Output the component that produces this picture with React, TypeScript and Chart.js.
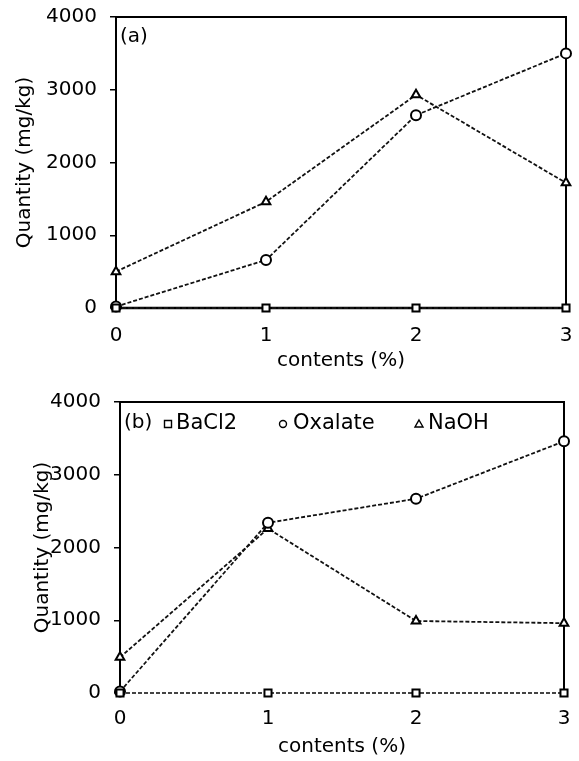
import React, { useEffect, useRef } from "react";
import { Chart, registerables } from "chart.js";

Chart.register(...registerables);

const categories = ["0", "1", "2", "3"];
const yTicks = [0, 1000, 2000, 3000, 4000];

const aBaCl2 = [0, 0, 0, 0];
const aOxalate = [20, 660, 2650, 3500];
const aNaOH = [500, 1460, 2930, 1720];

const bBaCl2 = [0, 0, 0, 0];
const bOxalate = [20, 2340, 2670, 3460];
const bNaOH = [490, 2260, 990, 960];

const seriesNames = ["BaCl2", "Oxalate", "NaOH"];
const pointStyles = ["rect", "circle", "triangle"];

const FONT = "'DejaVu Sans', sans-serif";
const FS = 20;

type Cfg = {
  yWidth: number;
  xHeight: number;
  padTop: number;
  padRight: number;
  tickPad: number;
  xTitlePadBottom: number;
  yTitlePadTop: number;
  panel: string;
  panelY: number;
  legend: boolean;
  bottomBorder: boolean;
  data: number[][];
};

function makeChart(canvas: HTMLCanvasElement, cfg: Cfg) {
  const boxPlugin = {
    id: "box",
    beforeDatasetsDraw(chart: any) {
      const { ctx, chartArea } = chart;
      const { left, right, top, bottom } = chartArea;
      ctx.save();
      ctx.strokeStyle = "#000";
      ctx.lineWidth = 2;
      ctx.beginPath();
      ctx.moveTo(left, bottom);
      ctx.lineTo(left, top);
      ctx.lineTo(right, top);
      ctx.lineTo(right, bottom);
      ctx.stroke();
      if (cfg.bottomBorder) {
        ctx.lineWidth = 2.5;
        ctx.beginPath();
        ctx.moveTo(left, bottom);
        ctx.lineTo(right, bottom);
        ctx.stroke();
      }
      ctx.restore();
    },
    afterDraw(chart: any) {
      const { ctx, chartArea } = chart;
      const { left } = chartArea;
      ctx.save();
      ctx.fillStyle = "#000";
      ctx.font = `${FS}px ${FONT}`;
      ctx.textBaseline = "middle";
      ctx.textAlign = "left";
      ctx.fillText(cfg.panel, left + 4, cfg.panelY);
      if (cfg.legend) {
        const items = [
          { mx: 168, tx: 176 },
          { mx: 283, tx: 293 },
          { mx: 419, tx: 428 },
        ];
        ctx.font = `21px ${FONT}`;
        items.forEach((it, i) => {
          const y = cfg.panelY + 1;
          ctx.lineWidth = 1.4;
          ctx.strokeStyle = "#000";
          ctx.beginPath();
          if (pointStyles[i] === "rect") {
            ctx.rect(it.mx - 3.5, y - 3.5, 7, 7);
          } else if (pointStyles[i] === "circle") {
            ctx.arc(it.mx, y, 3.5, 0, Math.PI * 2);
          } else {
            ctx.moveTo(it.mx, y - 4);
            ctx.lineTo(it.mx + 4, y + 3);
            ctx.lineTo(it.mx - 4, y + 3);
            ctx.closePath();
          }
          ctx.stroke();
          ctx.fillText(seriesNames[i], it.tx, y);
        });
      }
      ctx.restore();
    },
  };

  return new Chart(canvas, {
    type: "line",
    data: {
      labels: categories,
      datasets: cfg.data.map((d, i) => ({
        label: seriesNames[i],
        data: d,
        borderColor: i === 0 && !cfg.bottomBorder ? "#444" : "#111",
        borderWidth: 1.8,
        borderDash: [4, 2],
        pointStyle: pointStyles[i] as any,
        pointRadius: 5,
        pointBorderWidth: 2,
        pointBorderColor: "#000",
        pointBackgroundColor: "#fff",
        tension: 0,
        clip: false as any,
      })),
    },
    options: {
      responsive: false,
      animation: false,
      devicePixelRatio: 1,
      layout: {
        padding: { top: cfg.padTop, right: cfg.padRight, left: 0, bottom: 0 },
      },
      plugins: {
        legend: { display: false },
        tooltip: { enabled: false },
      },
      scales: {
        x: {
          type: "category",
          offset: false,
          grid: { display: false, drawTicks: false },
          border: { display: false },
          ticks: {
            color: "#000",
            font: { family: FONT, size: FS },
            padding: cfg.tickPad,
            maxRotation: 0,
          },
          title: {
            display: true,
            text: "contents (%)",
            color: "#000",
            font: { family: FONT, size: FS },
            padding: { top: 0, bottom: cfg.xTitlePadBottom },
          },
          afterFit(scale: any) {
            scale.height = cfg.xHeight;
            scale.paddingLeft = 0;
            scale.paddingRight = 0;
          },
        },
        y: {
          min: 0,
          max: 4000,
          afterBuildTicks(scale: any) {
            scale.ticks = yTicks.map((v) => ({ value: v }));
          },
          grid: {
            display: true,
            drawOnChartArea: false,
            drawTicks: true,
            tickLength: 6,
            color: "#000",
            lineWidth: 1.5,
          },
          border: { display: false },
          ticks: {
            color: "#000",
            font: { family: FONT, size: FS },
            padding: 13,
            callback: (v: any) => String(v),
          },
          title: {
            display: true,
            text: "Quantity (mg/kg)",
            color: "#000",
            font: { family: FONT, size: FS },
            padding: { top: cfg.yTitlePadTop, bottom: 0 },
          },
          afterFit(scale: any) {
            scale.width = cfg.yWidth;
            scale.paddingTop = 0;
            scale.paddingBottom = 0;
          },
        },
      },
    },
    plugins: [boxPlugin],
  } as any);
}

export default function App() {
  const refA = useRef<HTMLCanvasElement>(null);
  const refB = useRef<HTMLCanvasElement>(null);

  useEffect(() => {
    const a = makeChart(refA.current!, {
      yWidth: 116,
      xHeight: 72,
      padTop: 17,
      padRight: 13,
      tickPad: 16,
      xTitlePadBottom: 7,
      yTitlePadTop: 13,
      panel: "(a)",
      panelY: 37,
      legend: false,
      bottomBorder: true,
      data: [aBaCl2, aOxalate, aNaOH],
    });
    const b = makeChart(refB.current!, {
      yWidth: 120,
      xHeight: 68,
      padTop: 22,
      padRight: 15,
      tickPad: 14,
      xTitlePadBottom: 2,
      yTitlePadTop: 31,
      panel: "(b)",
      panelY: 43,
      legend: true,
      bottomBorder: false,
      data: [bBaCl2, bOxalate, bNaOH],
    });
    return () => {
      a.destroy();
      b.destroy();
    };
  }, []);

  return (
    <div
      style={{
        position: "absolute",
        left: 0,
        top: 0,
        width: 579,
        height: 761,
        background: "#fff",
      }}
    >
      <canvas ref={refA} width={579} height={380} style={{ display: "block" }} />
      <canvas ref={refB} width={579} height={381} style={{ display: "block" }} />
    </div>
  );
}
